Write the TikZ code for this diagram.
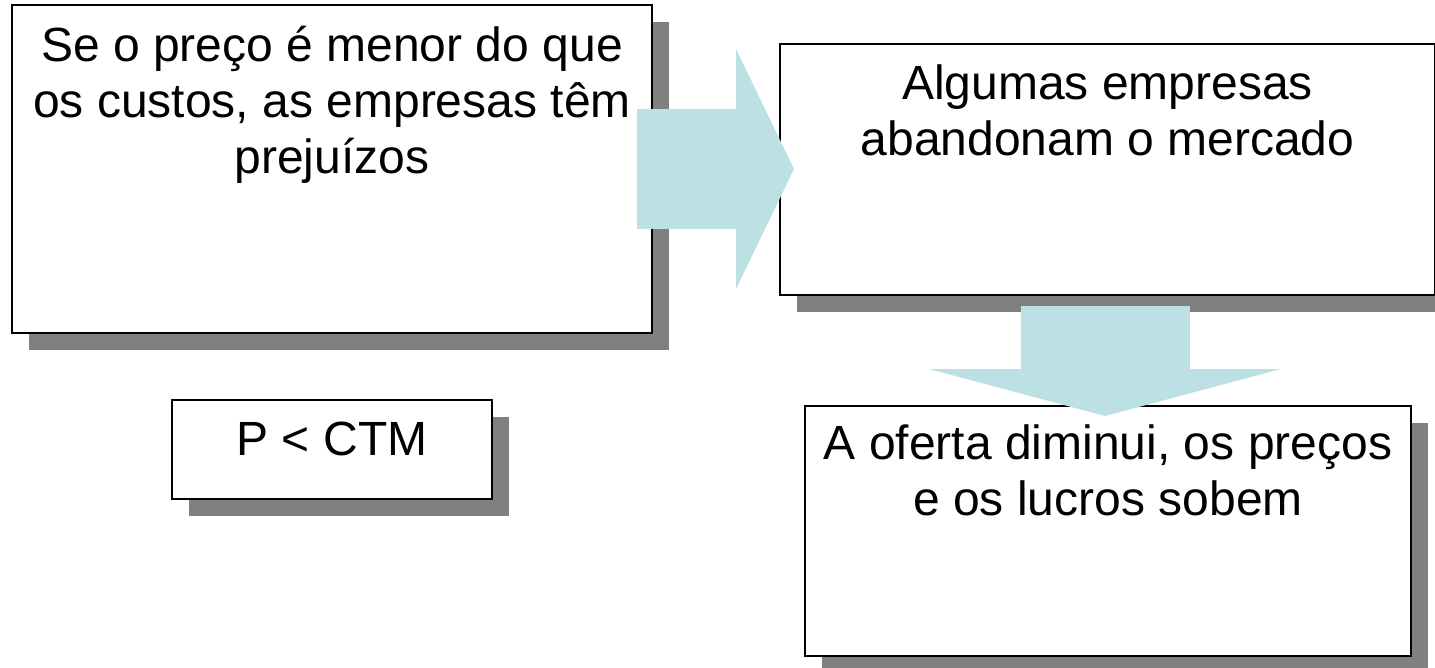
\documentclass[tikz,border=0pt]{standalone}
\usepackage{fontspec}
\setmainfont{Liberation Sans}
\usetikzlibrary{positioning,shadows,arrows.meta}
\definecolor{flowblue}{RGB}{188,224,227}
\definecolor{shadegray}{RGB}{128,128,128}

\begin{document}
\begin{tikzpicture}[
  x=1pt, y=-1pt,
  box/.style = {draw=black, line width=2pt, fill=white, inner sep=0pt,
    anchor=north west,
    drop shadow={shadow xshift=17pt, shadow yshift=-17pt,
      fill=shadegray, opacity=1}},
  txt/.style = {align=center, inner sep=0pt,
    font=\fontsize{48}{56}\selectfont},
  flow/.style n args = {3}{draw=flowblue, line width=#1,
    -{Triangle[width=#2, length=#3, line width=0pt]}}
  ]
  \useasboundingbox (0,0) rectangle (1435,667);

  % boxes
  \node[box, minimum width=640pt, minimum height=328pt] (cause) at (11,4) {};
  \node[box, minimum width=320pt, minimum height=99pt] (cond) at (171,399) {};
  \node[box, minimum width=655pt, minimum height=251pt] (exit) at (779,43) {};
  \node[box, minimum width=606pt, minimum height=250pt] (result) at (804,405) {};

  % texts
  \node[txt, below=22pt of cause.north] (causetext)
    {Se o preço é menor do que\\os custos, as empresas têm\\prejuízos};
  \node[txt, below=23pt of cond.north] (condtext) {P < CTM};
  \node[txt, below=22pt of exit.north] (exittext)
    {Algumas empresas\\abandonam o mercado};
  \node[txt, below=20pt of result.north] (resulttext)
    {A oferta diminui, os preços\\e os lucros sobem};

  % block arrows
  \draw[flow={120pt}{240pt}{58pt}] ([xshift=-16pt]cause.east)
    -- ([xshift=15pt]exit.west |- cause.east);
  \coordinate (drop) at ([xshift=-2.5pt, yshift=-10pt]exit.south);
  \draw[flow={169pt}{352pt}{47pt}] (drop)
    -- ([yshift=-11pt]drop |- result.north);
\end{tikzpicture}
\end{document}
